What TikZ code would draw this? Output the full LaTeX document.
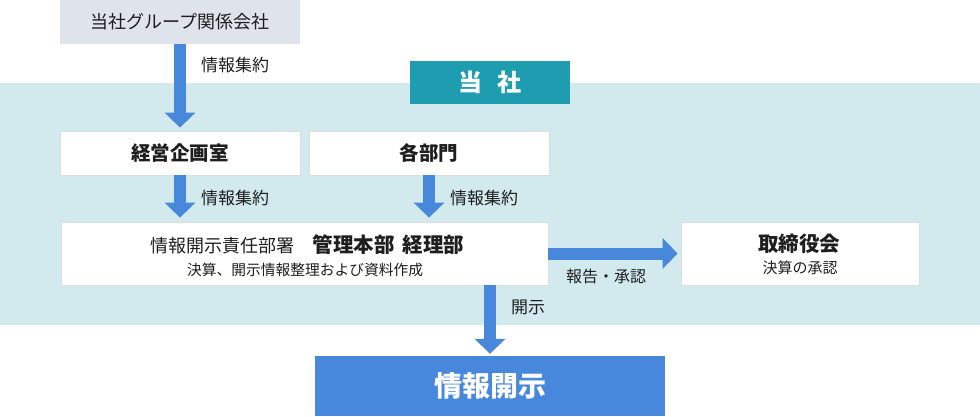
\documentclass[tikz,border=0pt]{standalone}
\usepackage{fontspec}
\setmainfont{Noto Sans CJK JP}
\usetikzlibrary{arrows.meta}
\definecolor{band}{RGB}{210,234,238}
\definecolor{grpfill}{RGB}{222,227,236}
\definecolor{teal}{RGB}{30,157,176}
\definecolor{flow}{RGB}{72,136,220}
\definecolor{boxline}{RGB}{218,222,226}
\definecolor{txt}{RGB}{30,30,30}
\tikzset{
  box/.style={draw=boxline, fill=white, line width=0.8pt, minimum width=240pt, minimum height=44pt, inner sep=0pt, text=txt, align=center},
  flowarrow/.style={draw=flow, line width=12pt, -{Triangle[width=30pt,length=15pt]}},
  lbl/.style={inner sep=0pt, anchor=west, text=txt, font=\fontsize{17}{20}\selectfont},
  inbox/.style={inner sep=0pt, text=txt},
  title/.style={font=\fontsize{19.5}{22}\selectfont\bfseries}
}
\begin{document}
\begin{tikzpicture}[x=1pt,y=-1pt]
\useasboundingbox (0,0) rectangle (980,416);
\fill[band] (0,83) rectangle (980,325);
\node[fill=teal, minimum width=160pt, minimum height=43pt, inner sep=0pt, text=white, font=\fontsize{24}{26}\selectfont\bfseries] (tosha) at (490,82.5) {当\hspace{0.6em}社};
\node[box, draw=none, fill=grpfill, font=\fontsize{18}{20}\selectfont] (group) at (180,22) {当社グループ関係会社};
\node[box, title] (plan) at (180,153) {経営企画室};
\node[box, title] (dept) at (429,153) {各部門};
\node[box, minimum width=487pt, minimum height=63pt] (main) at (304.5,253.5) {};
\node[inbox] (main1) at (307.5,245) {{\fontsize{18}{20}\selectfont 情報開示責任部署}\hspace{18pt}{\fontsize{20.5}{22}\selectfont\bfseries 管理本部\hspace{8pt}経理部}};
\node[inbox, font=\fontsize{14.75}{16}\selectfont] (main2) at (305,270) {決算、開示情報整理および資料作成};
\node[box, minimum width=238pt, minimum height=63pt] (board) at (800,253.5) {};
\node[inbox, font=\fontsize{20.5}{22}\selectfont\bfseries] (board1) at (799,244) {取締役会};
\node[inbox, font=\fontsize{15}{16}\selectfont] (board2) at (800,268) {決算の承認};
\node[fill=flow, minimum width=350pt, minimum height=60pt, inner sep=0pt, text=white, font=\fontsize{28}{30}\selectfont\bfseries] (disc) at (490,386) {情報開示};
\draw[flowarrow, shorten >=3pt] (group.south) -- (plan.north);
\draw[flowarrow, shorten >=4pt] (plan.south) -- (plan.south |- main.north);
\draw[flowarrow, shorten >=4pt] (dept.south) -- (dept.south |- main.north);
\draw[flowarrow, shorten >=3pt] (main.east) -- (board.west);
\draw[flowarrow, shorten >=2pt] (main.south -| disc.north) -- (disc.north);
\node[lbl] (l1) at (201,65) {情報集約};
\node[lbl] (l2) at (201,198.5) {情報集約};
\node[lbl] (l3) at (450,198.5) {情報集約};
\node[lbl, font=\fontsize{16}{18}\selectfont] (l4) at (566,276) {報告・承認};
\node[lbl] (l5) at (511,307) {開示};
\end{tikzpicture}
\end{document}
